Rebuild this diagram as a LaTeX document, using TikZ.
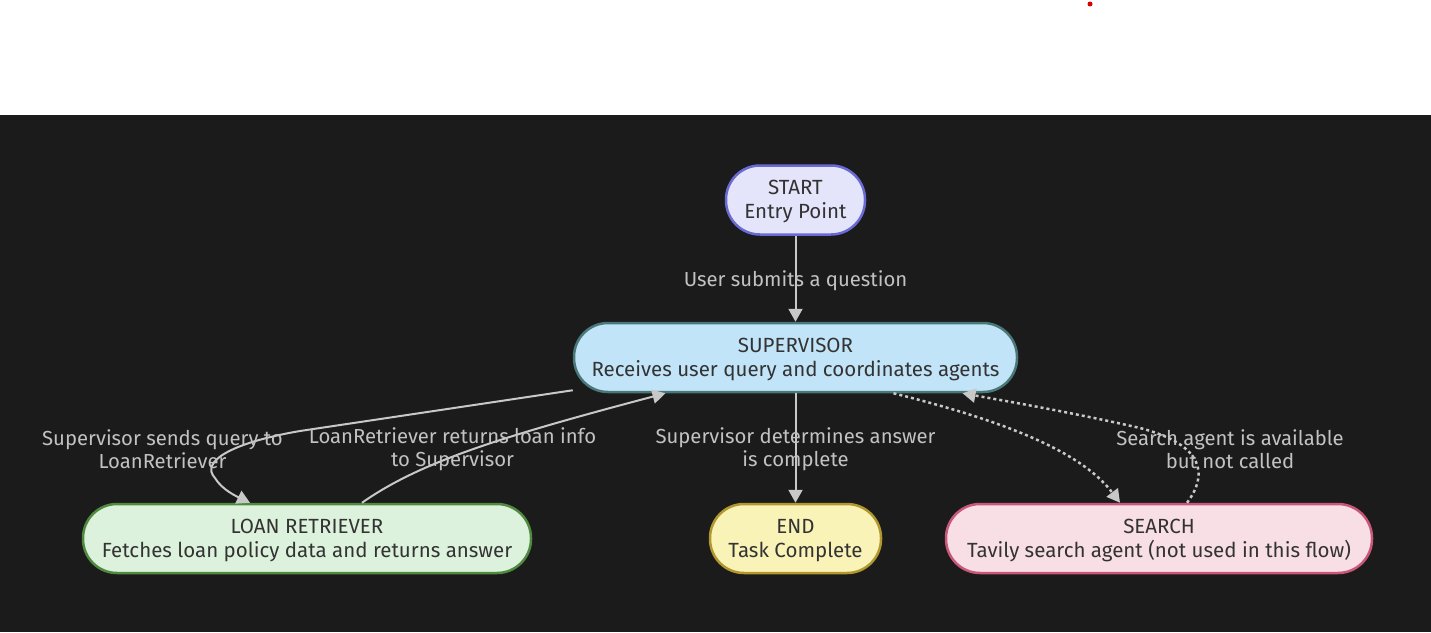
\documentclass[tikz,border=0pt]{standalone}
\usepackage{fontspec}
\setmainfont{Fira Sans}
\usetikzlibrary{arrows.meta}
\definecolor{bgdark}{HTML}{1B1B1B}
\definecolor{edgecol}{HTML}{C8C8C8}
\definecolor{labcol}{HTML}{C2C2C2}
\definecolor{txtcol}{HTML}{333333}
\definecolor{startfill}{HTML}{E4E4FA}
\definecolor{startdraw}{HTML}{6A6AD4}
\definecolor{supfill}{HTML}{C2E4F8}
\definecolor{supdraw}{HTML}{4A7878}
\definecolor{loanfill}{HTML}{DDF2DD}
\definecolor{loandraw}{HTML}{4F8A3F}
\definecolor{endfill}{HTML}{FAF3B8}
\definecolor{enddraw}{HTML}{B0982E}
\definecolor{srchfill}{HTML}{F8DEE5}
\definecolor{srchdraw}{HTML}{C8577A}
\tikzset{
  pill/.style={rectangle, rounded corners=34pt, line width=2.5pt, minimum height=69pt,
    text=txtcol, align=center, font=\fontsize{20.5}{24}\selectfont, inner sep=0pt, text height=42pt},
  edge/.style={draw=edgecol, line width=2pt, -{Triangle[length=13pt,width=14pt]}},
  dotedge/.style={edge, line width=2.5pt, dash pattern=on 3pt off 3pt},
  elabel/.style={text=labcol, align=center, font=\fontsize{20.3}{23}\selectfont, inner sep=0pt}
}
\begin{document}
\begin{tikzpicture}[x=1pt,y=-1pt]
\useasboundingbox (0,0) rectangle (1431,632);
\fill[white] (0,0) rectangle (1431,115);
\fill[bgdark] (0,115) rectangle (1431,632);
\fill[red!85!black] (1090,4) circle (2.5pt);

\node[pill, fill=startfill, draw=startdraw, minimum width=139pt] (start) at (795.5,200) {START\\Entry Point};
\node[pill, fill=supfill, draw=supdraw, minimum width=443pt] (sup) at (795.5,357.5) {SUPERVISOR\\Receives user query and coordinates agents};
\node[pill, fill=loanfill, draw=loandraw, minimum width=448pt] (loan) at (307,538.5) {LOAN RETRIEVER\\Fetches loan policy data and returns answer};
\node[pill, fill=endfill, draw=enddraw, minimum width=171pt] (end) at (795.5,538.5) {END\\Task Complete};
\node[pill, fill=srchfill, draw=srchdraw, minimum width=426pt] (srch) at (1159,538.5) {SEARCH\\Tavily search agent (not used in this flow)};

\draw[edge] (start.south) -- (sup.north);
\draw[edge] (sup.south) -- (end.north);
\draw[edge] ([shift={(0,-3)}]sup.south west) -- (300,431) .. controls (230,443) and (200,462) .. (215,478) .. controls (222,490) and (238,497) .. ([xshift=-57pt]loan.north);
\draw[edge] ([xshift=55pt]loan.north) .. controls (420,462) and (500,437) .. ([xshift=-130pt]sup.south);
\draw[dotedge] ([xshift=98pt]sup.south) .. controls (1000,420) and (1080,450) .. ([xshift=-39pt]srch.north);
\draw[dotedge] ([xshift=28pt]srch.north) .. controls (1208,475) and (1205,445) .. (1140,428) .. controls (1070,412) and (1000,400) .. ([xshift=167pt]sup.south);

\node[elabel] (l1) at (795.5,281) {User submits a question};
\node[elabel] (l2) at (162.5,449.5) {Supervisor sends query to\\LoanRetriever};
\node[elabel] (l3) at (452.5,449.5) {LoanRetriever returns loan info\\to Supervisor};
\node[elabel] (l4) at (795.5,449.5) {Supervisor determines answer\\is complete};
\node[elabel] (l5) at (1230,449.5) {Search agent is available\\but not called};
\end{tikzpicture}
\end{document}
